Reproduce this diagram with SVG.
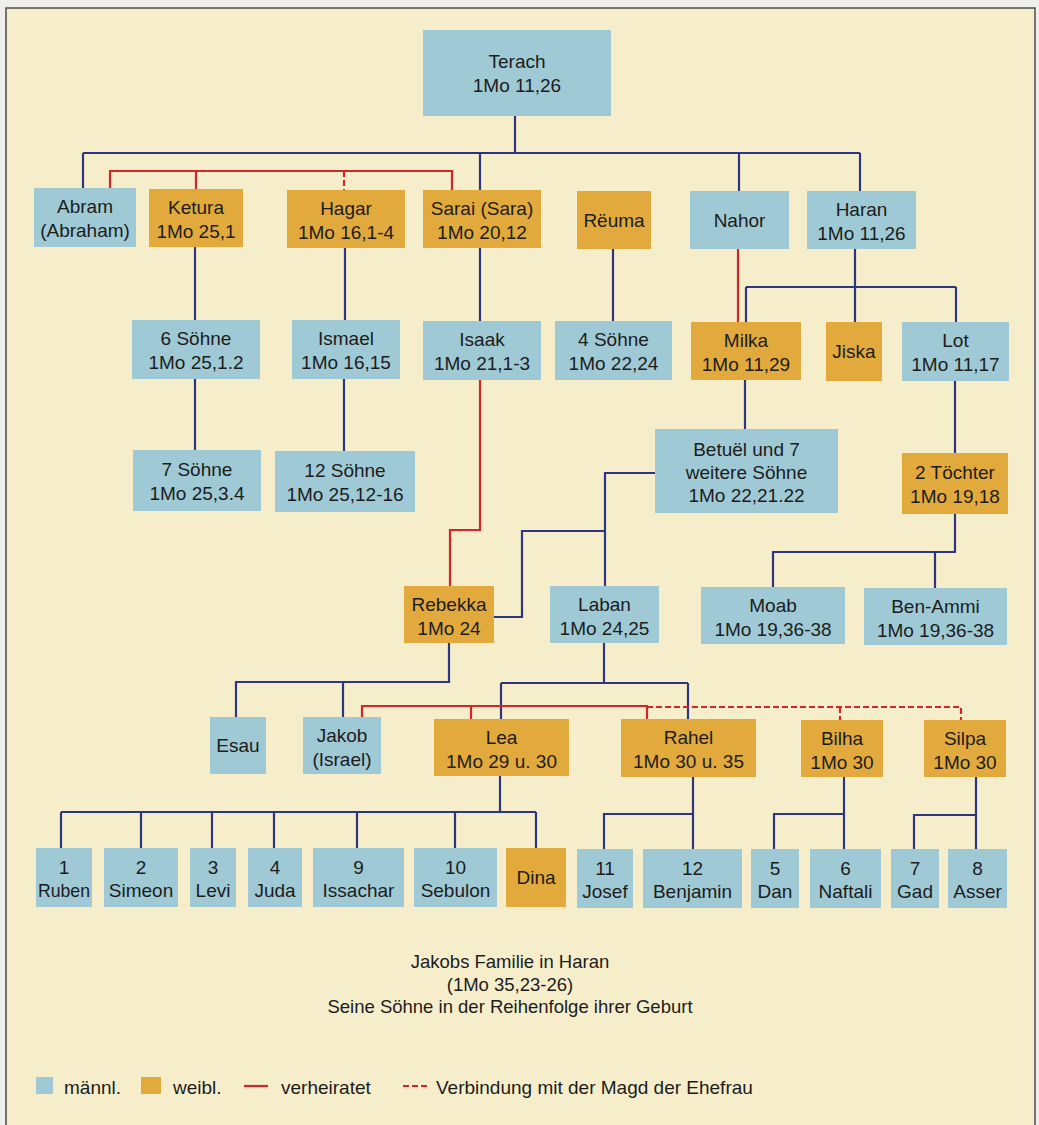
<svg xmlns="http://www.w3.org/2000/svg" width="1039" height="1125" viewBox="0 0 1039 1125">
<style>
.m{fill:#9fcad5}
.f{fill:#e2aa3d}
text{font-family:"Liberation Sans",Arial,sans-serif;font-size:19px;fill:#1c1c1c;text-anchor:middle}
.lg{text-anchor:start}
.cap{font-size:18.5px}
.bl{fill:none;stroke:#2d3680;stroke-width:2.2}
.rd{fill:none;stroke:#d3262b;stroke-width:2.2}
.ds{fill:none;stroke:#d3262b;stroke-width:2.2;stroke-dasharray:6 3}
</style>
<rect x="0" y="0" width="1039" height="1125" fill="#efefec"/>
<rect x="6" y="8" width="1029" height="1125" fill="#f6eecb" stroke="#4a4a55" stroke-width="1.5"/>

<g id="connectors">
  <path class="bl" d="M515,116 V153 M83,153 H860 M83,153 V188 M480,153 V190 M739,153 V191 M860,153 V191"/>
  <path class="bl" d="M195,247 V320 M345,248 V320 M480,248 V321 M613,249 V321"/>
  <path class="bl" d="M855,249 V287 M746,287 H956 M746,287 V322 M855,287 V322 M956,287 V322"/>
  <path class="bl" d="M195,379 V450 M344,379 V451 M745,380 V429 M955,381 V453"/>
  <path class="bl" d="M655,473 H605 V586 M605,531 H522 V617 H494"/>
  <path class="bl" d="M955,514 V552 H773 V587 M935,552 V588"/>
  <path class="bl" d="M449,643 V682 H236 V717 M343,682 V717"/>
  <path class="bl" d="M604,643 V683 M501,683 H688 M501,683 V719 M688,683 V719"/>
  <path class="bl" d="M500,776 V812 M61,812 H536 M61,812 V848 M141,812 V848 M212,812 V848 M274,812 V848 M357,812 V848 M455,812 V848 M536,812 V848"/>
  <path class="bl" d="M693,777 V849 M693,814 H604 V849"/>
  <path class="bl" d="M844,777 V849 M844,814 H774 V849"/>
  <path class="bl" d="M976,777 V849 M976,815 H914 V849"/>
  <path class="rd" d="M110,188 V171 H452 V190 M196,171 V189"/>
  <path class="ds" d="M344,171 V190"/>
  <path class="rd" d="M738,249 V322"/>
  <path class="rd" d="M480,380 V530 H450 V586"/>
  <path class="rd" d="M362,717 V706 H647 V719 M471,706 V719"/>
  <path class="ds" d="M647,707 H961 V720 M840,707 V720"/>
</g>

<g id="terach"><rect class="m" x="423" y="30" width="188" height="86"/><text x="517" y="68">Terach</text><text x="517" y="92">1Mo 11,26</text></g>
<g id="abram"><rect class="m" x="34" y="188" width="102" height="59"/><text x="85" y="213">Abram</text><text x="85" y="237">(Abraham)</text></g>
<g id="ketura"><rect class="f" x="149" y="189" width="94" height="58"/><text x="196" y="214">Ketura</text><text x="196" y="238">1Mo 25,1</text></g>
<g id="hagar"><rect class="f" x="287" y="190" width="118" height="58"/><text x="346" y="215">Hagar</text><text x="346" y="239">1Mo 16,1-4</text></g>
<g id="sarai"><rect class="f" x="423" y="190" width="118" height="58"/><text x="482" y="215">Sarai (Sara)</text><text x="482" y="239">1Mo 20,12</text></g>
<g id="reuma"><rect class="f" x="577" y="191" width="74" height="58"/><text x="614" y="227">Rëuma</text></g>
<g id="nahor"><rect class="m" x="690" y="191" width="99" height="58"/><text x="739.5" y="227">Nahor</text></g>
<g id="haran"><rect class="m" x="807" y="191" width="109" height="58"/><text x="861.5" y="216">Haran</text><text x="861.5" y="240">1Mo 11,26</text></g>

<g id="soehne6"><rect class="m" x="132" y="320" width="128" height="59"/><text x="196" y="345">6 Söhne</text><text x="196" y="369">1Mo 25,1.2</text></g>
<g id="ismael"><rect class="m" x="292" y="320" width="108" height="59"/><text x="346" y="345">Ismael</text><text x="346" y="369">1Mo 16,15</text></g>
<g id="isaak"><rect class="m" x="423" y="321" width="118" height="59"/><text x="482" y="346">Isaak</text><text x="482" y="370">1Mo 21,1-3</text></g>
<g id="soehne4"><rect class="m" x="555" y="321" width="117" height="59"/><text x="613.5" y="346">4 Söhne</text><text x="613.5" y="370">1Mo 22,24</text></g>
<g id="milka"><rect class="f" x="691" y="322" width="110" height="58"/><text x="746" y="347">Milka</text><text x="746" y="371">1Mo 11,29</text></g>
<g id="jiska"><rect class="f" x="826" y="322" width="56" height="59"/><text x="854" y="358">Jiska</text></g>
<g id="lot"><rect class="m" x="902" y="322" width="107" height="59"/><text x="955.5" y="347">Lot</text><text x="955.5" y="371">1Mo 11,17</text></g>

<g id="soehne7"><rect class="m" x="133" y="450" width="128" height="61"/><text x="197" y="476">7 Söhne</text><text x="197" y="500">1Mo 25,3.4</text></g>
<g id="soehne12"><rect class="m" x="275" y="451" width="140" height="61"/><text x="345" y="477">12 Söhne</text><text x="345" y="501">1Mo 25,12-16</text></g>
<g id="betuel"><rect class="m" x="655" y="429" width="183" height="84"/><text x="746.5" y="456">Betuël und 7</text><text x="746.5" y="479">weitere Söhne</text><text x="746.5" y="502">1Mo 22,21.22</text></g>
<g id="toechter"><rect class="f" x="902" y="453" width="106" height="61"/><text x="955" y="479">2 Töchter</text><text x="955" y="503">1Mo 19,18</text></g>

<g id="rebekka"><rect class="f" x="404" y="586" width="90" height="57"/><text x="449" y="611">Rebekka</text><text x="449" y="635">1Mo 24</text></g>
<g id="laban"><rect class="m" x="550" y="586" width="109" height="57"/><text x="604.5" y="611">Laban</text><text x="604.5" y="635">1Mo 24,25</text></g>
<g id="moab"><rect class="m" x="701" y="587" width="144" height="57"/><text x="773" y="612">Moab</text><text x="773" y="636">1Mo 19,36-38</text></g>
<g id="benammi"><rect class="m" x="864" y="588" width="143" height="57"/><text x="935.5" y="613">Ben-Ammi</text><text x="935.5" y="637">1Mo 19,36-38</text></g>

<g id="esau"><rect class="m" x="210" y="717" width="56" height="57"/><text x="238" y="752">Esau</text></g>
<g id="jakob"><rect class="m" x="303" y="717" width="78" height="57"/><text x="342" y="742">Jakob</text><text x="342" y="766">(Israel)</text></g>
<g id="lea"><rect class="f" x="434" y="719" width="135" height="57"/><text x="501.5" y="744">Lea</text><text x="501.5" y="768">1Mo 29 u. 30</text></g>
<g id="rahel"><rect class="f" x="621" y="719" width="135" height="58"/><text x="688.5" y="744">Rahel</text><text x="688.5" y="768">1Mo 30 u. 35</text></g>
<g id="bilha"><rect class="f" x="801" y="720" width="82" height="57"/><text x="842" y="745">Bilha</text><text x="842" y="769">1Mo 30</text></g>
<g id="silpa"><rect class="f" x="924" y="720" width="82" height="57"/><text x="965" y="745">Silpa</text><text x="965" y="769">1Mo 30</text></g>

<g id="ruben"><rect class="m" x="36" y="848" width="56" height="59"/><text x="64" y="874">1</text><text x="64" y="897" textLength="52" lengthAdjust="spacingAndGlyphs">Ruben</text></g>
<g id="simeon"><rect class="m" x="104" y="848" width="74" height="59"/><text x="141" y="874">2</text><text x="141" y="897">Simeon</text></g>
<g id="levi"><rect class="m" x="190" y="848" width="46" height="59"/><text x="213" y="874">3</text><text x="213" y="897">Levi</text></g>
<g id="juda"><rect class="m" x="248" y="848" width="54" height="59"/><text x="275" y="874">4</text><text x="275" y="897">Juda</text></g>
<g id="issachar"><rect class="m" x="313" y="848" width="91" height="59"/><text x="358.5" y="874">9</text><text x="358.5" y="897">Issachar</text></g>
<g id="sebulon"><rect class="m" x="414" y="848" width="83" height="59"/><text x="455.5" y="874">10</text><text x="455.5" y="897">Sebulon</text></g>
<g id="dina"><rect class="f" x="506" y="848" width="60" height="59"/><text x="536" y="884">Dina</text></g>
<g id="josef"><rect class="m" x="577" y="849" width="56" height="59"/><text x="605" y="875">11</text><text x="605" y="898">Josef</text></g>
<g id="benjamin"><rect class="m" x="643" y="849" width="99" height="59"/><text x="692.5" y="875">12</text><text x="692.5" y="898">Benjamin</text></g>
<g id="dan"><rect class="m" x="751" y="849" width="48" height="59"/><text x="775" y="875">5</text><text x="775" y="898">Dan</text></g>
<g id="naftali"><rect class="m" x="810" y="849" width="71" height="59"/><text x="845.5" y="875">6</text><text x="845.5" y="898">Naftali</text></g>
<g id="gad"><rect class="m" x="891" y="849" width="48" height="59"/><text x="915" y="875">7</text><text x="915" y="898">Gad</text></g>
<g id="asser"><rect class="m" x="948" y="849" width="59" height="59"/><text x="977.5" y="875">8</text><text x="977.5" y="898">Asser</text></g>

<g id="caption">
  <text class="cap" x="510" y="968">Jakobs Familie in Haran</text>
  <text class="cap" x="510" y="991">(1Mo 35,23-26)</text>
  <text class="cap" x="510" y="1013">Seine Söhne in der Reihenfolge ihrer Geburt</text>
</g>

<g id="legend">
  <rect class="m" x="36" y="1077" width="17" height="17"/>
  <text class="lg" x="64" y="1094">männl.</text>
  <rect class="f" x="141" y="1077" width="20" height="17"/>
  <text class="lg" x="173" y="1094">weibl.</text>
  <path class="rd" d="M244,1086 H268"/>
  <text class="lg" x="281" y="1094">verheiratet</text>
  <path class="ds" d="M403,1086 H428" stroke-dasharray="5 3"/>
  <text class="lg" x="436" y="1094">Verbindung mit der Magd der Ehefrau</text>
</g>
</svg>
